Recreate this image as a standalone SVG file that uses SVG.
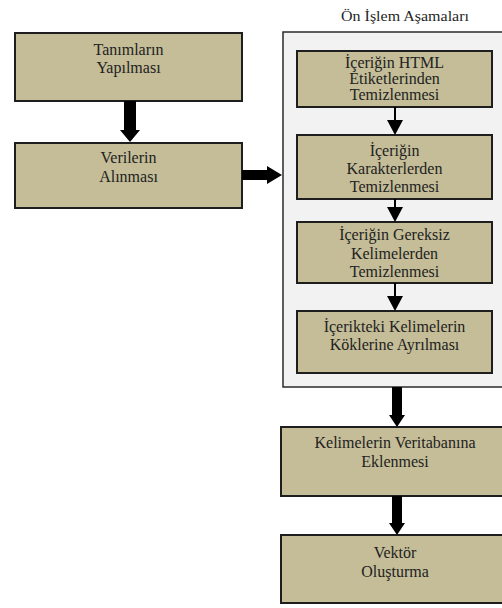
<svg xmlns="http://www.w3.org/2000/svg" width="502" height="608" viewBox="0 0 502 608">
  <style>
    .box { fill: #c4bd97; stroke: #1e1e1e; stroke-width: 2; }
    .frame { fill: #f2f2f2; stroke: #2a2a2a; stroke-width: 1.5; }
    .lbl { font-family: 'Liberation Serif', 'Times New Roman', Times, 'DejaVu Serif', serif; font-size: 16px; fill: #222222; text-anchor: middle; }
    .ttl { font-family: 'Liberation Serif', 'Times New Roman', Times, 'DejaVu Serif', serif; font-size: 14px; fill: #262626; text-anchor: middle; }
    .thick { fill: #000; }
    .thin { stroke: #000; stroke-width: 2; fill: none; }
  </style>
  <rect width="502" height="608" fill="#ffffff"/>

  <!-- pre-processing frame -->
  <g id="on-islem">
    <text class="ttl" x="405" y="21" textLength="128" lengthAdjust="spacingAndGlyphs">Ön İşlem Aşamaları</text>
    <rect class="frame" x="283" y="32" width="222" height="355"/>
  </g>

  <g id="tanimlar">
    <rect class="box" x="15" y="33" width="227" height="68"/>
    <text class="lbl" x="128.5" y="55">Tanımların</text>
    <text class="lbl" x="128.5" y="73">Yapılması</text>
  </g>

  <g id="veriler">
    <rect class="box" x="15" y="143" width="227" height="65"/>
    <text class="lbl" x="128.5" y="163">Verilerin</text>
    <text class="lbl" x="128.5" y="182">Alınması</text>
  </g>

  <g id="html">
    <rect class="box" x="297" y="51" width="195" height="56"/>
    <text class="lbl" x="394.5" y="68">İçeriğin HTML</text>
    <text class="lbl" x="394.5" y="84">Etiketlerinden</text>
    <text class="lbl" x="394.5" y="100">Temizlenmesi</text>
  </g>

  <g id="karakter">
    <rect class="box" x="297" y="135" width="195" height="64"/>
    <text class="lbl" x="394.5" y="156">İçeriğin</text>
    <text class="lbl" x="394.5" y="174">Karakterlerden</text>
    <text class="lbl" x="394.5" y="192">Temizlenmesi</text>
  </g>

  <g id="gereksiz">
    <rect class="box" x="297" y="222" width="195" height="61"/>
    <text class="lbl" x="394.5" y="240">İçeriğin Gereksiz</text>
    <text class="lbl" x="394.5" y="259">Kelimelerden</text>
    <text class="lbl" x="394.5" y="277">Temizlenmesi</text>
  </g>

  <g id="kok">
    <rect class="box" x="297" y="311" width="195" height="62"/>
    <text class="lbl" x="394.5" y="332">İçerikteki Kelimelerin</text>
    <text class="lbl" x="394.5" y="350">Köklerine Ayrılması</text>
  </g>

  <g id="veritabani">
    <rect class="box" x="281" y="427" width="230" height="69"/>
    <text class="lbl" x="395" y="448">Kelimelerin Veritabanına</text>
    <text class="lbl" x="395" y="467">Eklenmesi</text>
  </g>

  <g id="vektor">
    <rect class="box" x="281" y="535" width="230" height="68"/>
    <text class="lbl" x="395" y="558">Vektör</text>
    <text class="lbl" x="395" y="577">Oluşturma</text>
  </g>

  <g id="connectors">
    <!-- thick block arrows -->
    <path class="thick" d="M124,101 H136 V130 H140 L130,142 L120,130 H124 Z"/>
    <path class="thick" d="M242,170 H267 V166 L282,175 L267,184 V180 H242 Z"/>
    <path class="thick" d="M392,387 H402 V415 H405 L397,427 L389,415 H392 Z"/>
    <path class="thick" d="M392,496 H402 V523 H405 L397,535 L389,523 H392 Z"/>
    <!-- thin arrows inside frame -->
    <line class="thin" x1="395" y1="107" x2="395" y2="121"/>
    <path class="thick" d="M387,120 H403 L395,135 Z"/>
    <line class="thin" x1="395" y1="199" x2="395" y2="208"/>
    <path class="thick" d="M387,207 H403 L395,222 Z"/>
    <line class="thin" x1="395" y1="283" x2="395" y2="296"/>
    <path class="thick" d="M387,296 H403 L395,311 Z"/>
  </g>
</svg>
